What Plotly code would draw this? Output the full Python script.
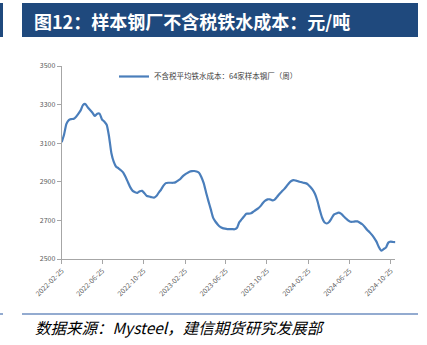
import datetime as dt
import plotly.graph_objects as go

# Weekly pig-iron cost excluding tax, average of 64 sample steel mills (yuan/tonne)
start_date = "2022-02-25"
cost_values = [
    3105, 3145, 3200, 3220, 3225, 3226, 3236, 3252, 3270, 3298,
    3303, 3286, 3272, 3258, 3241, 3252, 3253, 3224, 3212, 3196,
    3135, 3048, 3003, 2978, 2970, 2960, 2948, 2925, 2898, 2871,
    2853, 2846, 2843, 2851, 2853, 2840, 2826, 2824, 2820, 2818,
    2826, 2844, 2860, 2880, 2893, 2895, 2895, 2895, 2897, 2905,
    2913, 2927, 2937, 2945, 2952, 2955, 2956, 2953, 2947, 2925,
    2893, 2845, 2800, 2757, 2713, 2693, 2678, 2666, 2660, 2657,
    2655, 2655, 2655, 2654, 2660, 2690, 2705, 2720, 2735, 2735,
    2737, 2745, 2754, 2762, 2774, 2790, 2802, 2809, 2809, 2804,
    2808, 2822, 2837, 2850, 2862, 2877, 2893, 2904, 2909, 2906,
    2902, 2899, 2895, 2893, 2887, 2874, 2859, 2838, 2803, 2756,
    2715, 2690, 2684, 2692, 2710, 2730, 2736, 2740, 2735, 2723,
    2711, 2700, 2693, 2693, 2695, 2695, 2688, 2680, 2667, 2652,
    2640, 2626, 2610, 2590, 2562, 2543, 2551, 2559, 2585, 2590,
    2588, 2587,
]
series_name = "不含税平均铁水成本：64家样本钢厂（周）"
x_tick_labels = ["2022-02-25", "2022-06-25", "2022-10-25", "2023-02-25",
                 "2023-06-25", "2023-10-25", "2024-02-25", "2024-06-25",
                 "2024-10-25"]
y_ticks = [2500, 2700, 2900, 3100, 3300, 3500]

title_text = "图12：样本钢厂不含税铁水成本：元/吨"
source_text = "数据来源：Mysteel，建信期货研究发展部"

d0 = dt.date.fromisoformat(start_date)
dates = [(d0 + dt.timedelta(weeks=i)).isoformat() for i in range(len(cost_values))]

W, H = 427, 345
navy = "#1F497D"
axis_grey = "#A6A6A6"
label_grey = "#595959"

fig = go.Figure()
fig.add_trace(go.Scatter(
    x=dates, y=cost_values, mode="lines", name=series_name,
    line=dict(color="#4A7EBB", width=2.2, shape="spline", smoothing=0.6),
))

fig.update_layout(
    width=W, height=H,
    margin=dict(l=0, r=0, t=0, b=0, autoexpand=False),
    paper_bgcolor="white", plot_bgcolor="white",
    font=dict(family="Noto Sans CJK SC, sans-serif", color=label_grey, size=7),
    showlegend=True,
    legend=dict(x=114 / W, y=1 - 62 / H, xanchor="left", yanchor="top",
                bgcolor="rgba(0,0,0,0)", font=dict(size=7.5, color="#404040"),
                itemwidth=30),
    xaxis=dict(
        domain=[61.7 / W, 395.4 / W],
        automargin=False,
        type="date",
        range=[dates[0], dates[-1]],
        tickmode="array", tickvals=x_tick_labels, ticktext=x_tick_labels,
        tickangle=-45, ticks="outside", ticklen=4, tickcolor=axis_grey,
        showline=True, linecolor=axis_grey, linewidth=1,
        showgrid=False, zeroline=False,
        tickfont=dict(size=7, color=label_grey),
    ),
    yaxis=dict(
        domain=[1 - 259 / H, 1 - 66 / H],
        automargin=False,
        range=[2500, 3500],
        tickmode="array", tickvals=y_ticks,
        ticks="outside", ticklen=4, tickcolor=axis_grey,
        showline=True, linecolor=axis_grey, linewidth=1,
        showgrid=False, zeroline=False,
        tickfont=dict(size=7, color=label_grey),
    ),
    shapes=[
        # header band and its small left tab
        dict(type="rect", xref="paper", yref="paper",
             x0=22 / W, x1=418 / W, y0=1 - 37 / H, y1=1 - 3 / H,
             fillcolor=navy, line=dict(width=0), layer="below"),
        dict(type="rect", xref="paper", yref="paper",
             x0=0, x1=3 / W, y0=1 - 37 / H, y1=1 - 3 / H,
             fillcolor=navy, line=dict(width=0), layer="below"),
        # footer rule and its small left tab
        dict(type="line", xref="paper", yref="paper",
             x0=22 / W, x1=418 / W, y0=1 - 314 / H, y1=1 - 314 / H,
             line=dict(color="#6F8FC0", width=1.5)),
        dict(type="line", xref="paper", yref="paper",
             x0=0, x1=3 / W, y0=1 - 314 / H, y1=1 - 314 / H,
             line=dict(color="#6F8FC0", width=1.5)),
    ],
    annotations=[
        dict(text="<b>" + title_text + "</b>", xref="paper", yref="paper",
             x=32 / W, y=1 - 21 / H, xanchor="left", yanchor="middle",
             showarrow=False,
             font=dict(size=18, color="white",
                       family="Noto Sans CJK SC, sans-serif")),
        dict(text="<i>" + source_text + "</i>", xref="paper", yref="paper",
             x=33 / W, y=1 - 327 / H, xanchor="left", yanchor="middle",
             showarrow=False,
             font=dict(size=15.5, color="black",
                       family="Noto Sans CJK SC, sans-serif")),
    ],
)

fig.write_html("out.html")
